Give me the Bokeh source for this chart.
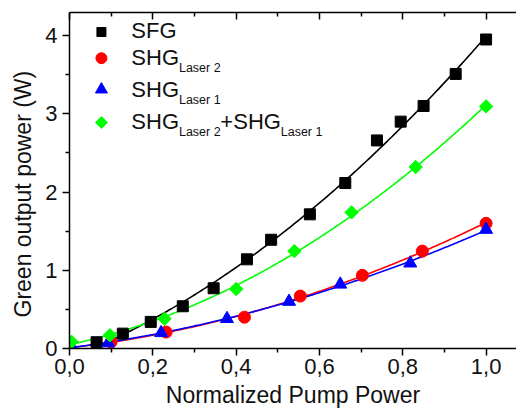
import numpy as np
from bokeh.plotting import figure
from bokeh.models import LinearAxis, FixedTicker, CustomJSTickFormatter, Range1d, Title
from bokeh.core.properties import value
from bokeh.embed import file_html
from bokeh.resources import INLINE

# ---- data ----
sfg_x = [0.065, 0.128, 0.195, 0.272, 0.346, 0.426, 0.484, 0.577, 0.662, 0.738, 0.795, 0.850, 0.927, 1.0]
sfg_y = [0.08, 0.19, 0.34, 0.54, 0.77, 1.14, 1.39, 1.715, 2.115, 2.66, 2.90, 3.10, 3.51, 3.95]

shg2_x = [0.10, 0.232, 0.42, 0.554, 0.703, 0.847, 1.0]
shg2_y = [0.085, 0.21, 0.40, 0.67, 0.935, 1.245, 1.60]

shg1_x = [0.005, 0.093, 0.22, 0.378, 0.527, 0.65, 0.818, 1.0]
shg1_y = [0.02, 0.07, 0.20, 0.38, 0.60, 0.82, 1.09, 1.52]

sum_x = [0.005, 0.097, 0.228, 0.40, 0.54, 0.677, 0.831, 1.0]
sum_y = [0.085, 0.17, 0.38, 0.76, 1.245, 1.74, 2.32, 3.095]

x_ticks = [0.0, 0.2, 0.4, 0.6, 0.8, 1.0]
x_minor = [0.1, 0.3, 0.5, 0.7, 0.9]
y_ticks = [0, 1, 2, 3, 4]
y_minor = [0.5, 1.5, 2.5, 3.5]

x_title = "Normalized Pump Power"
y_title = "Green output power (W)"

BLACK, RED, BLUE, GREEN = "#000000", "#ff0000", "#0000ff", "#00ff00"
FONT = "Liberation Sans"
TXT = "#111111"

W, H = 516, 419
LEFT, TOP, BOTTOM, RIGHT = 68, 12, 71, 0
X0, X1 = 0.0, 1.073
Y0, Y1 = 0.0, 4.295
FW = W - LEFT - RIGHT
FH = H - TOP - BOTTOM

p = figure(width=W, height=H, output_backend="svg", toolbar_location=None,
           x_range=Range1d(X0, X1), y_range=Range1d(Y0, Y1),
           x_axis_location=None, y_axis_location=None,
           min_border_left=LEFT, min_border_right=RIGHT,
           min_border_top=TOP, min_border_bottom=BOTTOM)
p.outline_line_color = None
p.xgrid.visible = False
p.ygrid.visible = False
p.background_fill_color = "white"
p.border_fill_color = "white"

fmt_comma = CustomJSTickFormatter(code="return tick.toFixed(1).replace('.', ',');")
fmt_int = CustomJSTickFormatter(code="return tick.toFixed(0);")

def style(ax, inside=False, labels=True):
    ax.axis_line_width = 1.5
    ax.major_tick_line_width = 1.5
    ax.minor_tick_line_width = 1.5
    if inside:
        ax.major_tick_in, ax.major_tick_out = 7, 0
        ax.minor_tick_in, ax.minor_tick_out = 4, 0
    else:
        ax.major_tick_in, ax.major_tick_out = 0, 7
        ax.minor_tick_in, ax.minor_tick_out = 0, 4
    ax.major_label_text_font = FONT
    ax.major_label_text_color = TXT
    if not labels:
        ax.major_label_text_font_size = "0px"
        ax.major_label_text_alpha = 0

bx = LinearAxis(ticker=FixedTicker(ticks=x_ticks, minor_ticks=x_minor), formatter=fmt_comma)
style(bx)
bx.major_label_text_font_size = "22px"
bx.major_label_standoff = 3
bx.axis_label = x_title
bx.axis_label_text_font = FONT
bx.axis_label_text_font_size = "23px"
bx.axis_label_text_font_style = "normal"
bx.axis_label_text_color = TXT
bx.axis_label_standoff = 5
p.add_layout(bx, "below")

tx = LinearAxis(ticker=FixedTicker(ticks=x_ticks, minor_ticks=x_minor), formatter=fmt_comma)
style(tx, inside=True, labels=False)
p.add_layout(tx, "above")

ly = LinearAxis(ticker=FixedTicker(ticks=y_ticks, minor_ticks=y_minor), formatter=fmt_int)
style(ly)
ly.major_label_text_font_size = "22px"
ly.major_label_standoff = 5
p.add_layout(ly, "left")

p.add_layout(Title(text=y_title, align="left", offset=31, text_font=FONT,
                   text_font_size="23px", text_font_style="normal", text_color=TXT,
                   standoff=14), "left")

# ---- quadratic fit curves (from the data) ----
xf = np.linspace(0, 1.0, 200)
for xs, ys, col in [(sfg_x, sfg_y, BLACK), (sum_x, sum_y, GREEN),
                    (shg2_x, shg2_y, RED), (shg1_x, shg1_y, BLUE)]:
    c = np.polyfit(xs, ys, 2)
    p.line(xf, np.polyval(c, xf), line_color=col, line_width=1.6)

# ---- markers ----
p.scatter(sfg_x, sfg_y, marker="square", size=11, color=BLACK)
p.scatter(shg2_x, shg2_y, marker="circle", size=12, color=RED)
p.scatter(shg1_x, shg1_y, marker="triangle", size=13, color=BLUE)
p.scatter(sum_x, sum_y, marker="square", angle=np.pi / 4, size=9.5, color=GREEN)

# ---- manual legend (with subscripts) ----
def px2data(px, py):
    return (X0 + (px - LEFT) / FW * (X1 - X0), Y0 + (TOP + FH - py) / FH * (Y1 - Y0))

leg_marker_x = 100
rows = [
    ("square", 9, BLACK, 0, 31.5, 38.3),
    ("circle", 11, RED, 0, 57.7, 65.0),
    ("triangle", 12, BLUE, 0, 89.0, 97.0),
    ("square", 8.5, GREEN, np.pi / 4, 122.0, 129.0),
]
for mk, sz, col, ang, my, base in rows:
    dx, dy = px2data(leg_marker_x, my)
    p.scatter([dx], [dy], marker=mk, size=sz, color=col, angle=ang)

BASE_SHIFT = 8.3 / 22.0   # measured: rendered baseline sits this far (x size) below the anchor

def txt(s, px, pbase, size):
    dx, dy = px2data(px, pbase - BASE_SHIFT * size)
    p.text([dx], [dy], text=[s], text_font=value(FONT), text_font_size=f"{size}px",
           text_color=TXT, text_baseline="alphabetic", text_align="left")

TX = 130
SHG_W = 47.7
SUB = 12.5
SUB_DY = 7
txt("SFG", TX, rows[0][5], 22)
txt("SHG", TX, rows[1][5], 22)
txt("Laser 2", TX + SHG_W, rows[1][5] + SUB_DY, SUB)
txt("SHG", TX, rows[2][5], 22)
txt("Laser 1", TX + SHG_W, rows[2][5] + SUB_DY, SUB)
txt("SHG", TX, rows[3][5], 22)
txt("Laser 2", TX + SHG_W, rows[3][5] + SUB_DY, SUB)
txt("+SHG", TX + SHG_W + 41.5, rows[3][5], 22)
txt("Laser 1", TX + SHG_W + 41.5 + 12.8 + SHG_W, rows[3][5] + SUB_DY, SUB)

open("out.html", "w").write(file_html(p, INLINE))
